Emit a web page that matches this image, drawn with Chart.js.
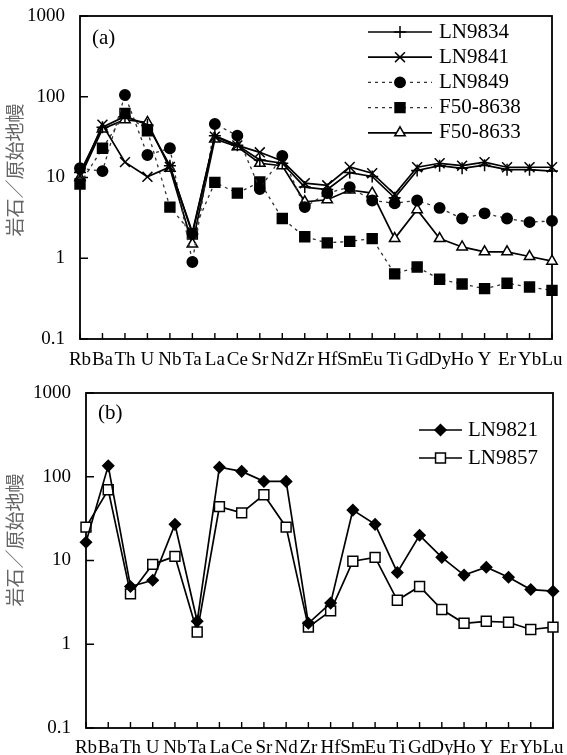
<!DOCTYPE html>
<html>
<head>
<meta charset="utf-8">
<script src="https://cdn.jsdelivr.net/npm/chart.js@4.4.0/dist/chart.umd.min.js"></script>
<style>
  body { margin: 0; background: #fff; }
  canvas { position: absolute; left: 0; }
  #chartA { top: 0; }
  #chartB { top: 370px; }
</style>
</head>
<body>
<canvas id="chartA" width="567" height="370"></canvas>
<canvas id="chartB" width="567" height="385"></canvas>
<script>
// element order on the x axis
const elements = ['Rb','Ba','Th','U','Nb','Ta','La','Ce','Sr','Nd','Zr','Hf','Sm','Eu','Ti','Gd','Dy','Ho','Y','Er','Yb','Lu'];
const yTicks = [0.1, 1, 10, 100, 1000];

// panel (a)
const ln9834  = [11.5, 42, 57, 45, 14, 2.0, 33, 25, 16.5, 15, 7.6, 7.1, 11.5, 10.3, 5.6, 12.2, 14, 13, 14.2, 12.5, 12.5, 12];
const ln9841  = [10.5, 45, 15.5, 10.2, 13.5, 2.1, 32, 25, 20.5, 16, 8.5, 8.0, 13.5, 11.3, 6.2, 13.4, 15, 14, 15.5, 13.4, 13.4, 13.4];
const ln9849  = [13, 12, 105, 19, 23, 0.9, 46, 33, 7.2, 18.5, 4.3, 6.4, 7.6, 5.2, 4.8, 5.2, 4.2, 3.1, 3.6, 3.1, 2.8, 2.9];
const f508638 = [8.3, 23, 62, 38, 4.3, 2.0, 8.7, 6.4, 8.8, 3.1, 1.85, 1.55, 1.62, 1.75, 0.64, 0.78, 0.55, 0.48, 0.42, 0.49, 0.44, 0.40];
const f508633 = [10, 40, 52, 48, 13, 1.5, 30, 24, 15, 14, 5.0, 5.3, 7.0, 6.4, 1.75, 4.0, 1.75, 1.38, 1.2, 1.2, 1.05, 0.92];

// panel (b)
const ln9821 = [16.5, 135, 4.9, 5.8, 27, 1.88, 130, 116, 88, 88, 1.78, 3.1, 40, 27, 7.2, 20, 10.9, 6.7, 8.3, 6.3, 4.5, 4.3];
const ln9857 = [25, 70, 4.0, 9.0, 11.2, 1.4, 44, 37, 61, 25, 1.6, 2.5, 9.8, 10.9, 3.35, 4.9, 2.6, 1.78, 1.88, 1.83, 1.5, 1.6];

const serif = "'Liberation Serif', 'Times New Roman', serif";

function series(label, data, style, radius, fill, dashed) {
  return {
    label: label,
    data: data,
    borderColor: dashed ? '#333' : '#000',
    borderWidth: dashed ? 1.3 : 1.7,
    borderDash: dashed ? [3, 4] : [],
    pointStyle: style,
    pointRadius: radius,
    pointHoverRadius: radius,
    pointBackgroundColor: fill,
    pointBorderColor: '#000',
    pointBorderWidth: 1.5,
    tension: 0,
    fill: false,
    clip: false
  };
}

// box round the plot and inward ticks
const framePlugin = {
  id: 'frame',
  beforeDatasetsDraw(chart) {
    const ctx = chart.ctx, a = chart.chartArea;
    const x = chart.scales.x, y = chart.scales.y;
    ctx.save();
    ctx.strokeStyle = '#000';
    ctx.lineWidth = 1.8;
    ctx.strokeRect(a.left, a.top, a.right - a.left, a.bottom - a.top);
    ctx.lineWidth = 1.4;
    ctx.beginPath();
    yTicks.forEach(v => {
      const py = y.getPixelForValue(v);
      ctx.moveTo(a.left, py);
      ctx.lineTo(a.left + 8, py);
    });
    elements.forEach((e, i) => {
      const px = x.getPixelForValue(i);
      ctx.moveTo(px, a.bottom);
      ctx.lineTo(px, a.bottom - 6);
    });
    ctx.stroke();
    ctx.restore();
  }
};

// legend inside the plot, panel tag and y title
const keyPlugin = {
  id: 'key',
  afterDraw(chart, args, o) {
    const ctx = chart.ctx;
    ctx.save();
    chart.data.datasets.forEach((ds, i) => {
      const y = o.y0 + i * o.dy;
      ctx.strokeStyle = ds.borderColor;
      ctx.lineWidth = ds.borderWidth;
      ctx.setLineDash(ds.borderDash);
      ctx.beginPath();
      ctx.moveTo(o.x0, y);
      ctx.lineTo(o.x1, y);
      ctx.stroke();
      ctx.setLineDash([]);
      ctx.fillStyle = ds.pointBackgroundColor;
      ctx.strokeStyle = ds.pointBorderColor;
      ctx.lineWidth = ds.pointBorderWidth;
      Chart.helpers.drawPoint(ctx, {
        pointStyle: ds.pointStyle, radius: ds.pointRadius, rotation: 0, borderWidth: ds.pointBorderWidth
      }, (o.x0 + o.x1) / 2, y);
      ctx.fillStyle = '#000';
      ctx.font = '21px ' + serif;
      ctx.textAlign = 'left';
      ctx.textBaseline = 'middle';
      ctx.fillText(ds.label, o.tx, y);
    });
    ctx.fillText(o.tag, o.tagX, o.tagY);

    ctx.translate(o.titleX, o.titleY);
    ctx.rotate(-Math.PI / 2);
    ctx.font = "19px 'Noto Sans CJK SC'";
    ctx.fillStyle = '#666';
    ctx.textAlign = 'center';
    ctx.fillText('岩石／原始地幔', 0, 0);
    ctx.restore();
  }
};

function makeChart(id, datasets, lay, key) {
  return new Chart(document.getElementById(id), {
    type: 'line',
    data: { labels: elements, datasets: datasets },
    plugins: [framePlugin, keyPlugin],
    options: {
      responsive: false,
      animation: false,
      devicePixelRatio: 1,
      layout: { padding: { top: lay.top, right: lay.right, left: 0, bottom: 0 } },
      plugins: { legend: { display: false }, tooltip: { enabled: false }, key: key },
      scales: {
        x: {
          type: 'category',
          offset: false,
          grid: { display: false },
          border: { display: false },
          ticks: { autoSkip: false, maxRotation: 0, minRotation: 0, padding: lay.xpad, color: '#000', font: { family: serif, size: 19 } },
          afterFit: s => { s.height = lay.xh; }
        },
        y: {
          type: 'logarithmic',
          min: 0.1,
          max: 1000,
          grid: { display: false },
          border: { display: false },
          afterBuildTicks: s => { s.ticks = yTicks.map(v => ({ value: v })); },
          ticks: { padding: 7, color: '#000', font: { family: serif, size: 19, lineHeight: 0.9 }, callback: v => String(v) },
          afterFit: s => { s.width = lay.yw; }
        }
      }
    }
  });
}

makeChart('chartA', [
  series('LN9834', ln9834, 'cross', 6, '#000', false),
  series('LN9841', ln9841, 'crossRot', 7, '#000', false),
  series('LN9849', ln9849, 'circle', 5.2, '#000', true),
  series('F50-8638', f508638, 'rect', 7, '#000', true),
  series('F50-8633', f508633, 'triangle', 6, '#fff', false)
], { top: 16, right: 15, xh: 31, yw: 80, xpad: 2 },
{ x0: 368, x1: 432, y0: 32, dy: 25.2, tx: 439, tag: '(a)', tagX: 92, tagY: 38, titleX: 15, titleY: 170 });

makeChart('chartB', [
  series('LN9821', ln9821, 'rectRot', 5.5, '#000', false),
  series('LN9857', ln9857, 'rect', 7, '#fff', false)
], { top: 23, right: 14, xh: 27, yw: 86, xpad: 1 },
{ x0: 419, x1: 462, y0: 60, dy: 28, tx: 468, tag: '(b)', tagX: 98, tagY: 43, titleX: 15, titleY: 170 });
</script>
</body>
</html>
